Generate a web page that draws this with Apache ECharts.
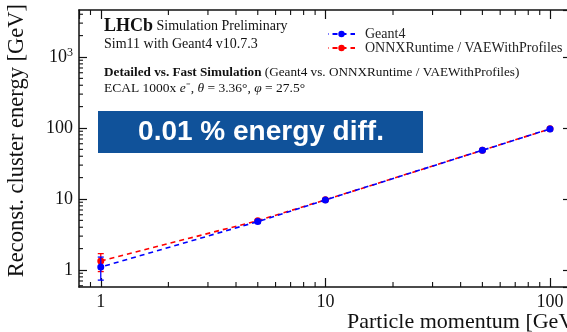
<!DOCTYPE html>
<html>
<head>
<meta charset="utf-8">
<script src="https://cdn.jsdelivr.net/npm/echarts@6/dist/echarts.min.js"></script>
<style>
html,body{margin:0;padding:0;background:#fff;}
#c{width:567px;height:332px;}
</style>
</head>
<body>
<div id="c"></div>
<script>
// ---- data ----
var momentum = [1, 5, 10, 50, 100];
var geant4 = [1.10, 4.80, 9.70, 48.5, 97.0];
var geant4Lo = [0.72, 4.60, 9.50, 47.8, 95.8];
var geant4Hi = [1.52, 5.00, 9.90, 49.2, 98.2];
var onnx = [1.34, 4.95, 9.72, 48.6, 97.2];
var onnxLo = [0.95, 4.75, 9.52, 47.9, 96.0];
var onnxHi = [1.70, 5.15, 9.92, 49.3, 98.4];
var xTickLabels = ['1', '10', '100'];
var yTickLabels = ['1', '10', '100', '10{sup|3}'];
var seriesNames = ['Geant4', 'ONNXRuntime / VAEWithProfiles'];

var SERIF = 'Liberation Serif';
var xMin = 0.8, xMax = 124, yMin = 0.576, yMax = 4590;
var BLUE = '#0000ff', RED = '#ff0000';

function pairs(xs, ys) { return xs.map(function (x, i) { return [x, ys[i]]; }); }
function errData(xs, lo, hi) { return xs.map(function (x, i) { return [x, lo[i], hi[i]]; }); }

function isDecade(v) { var l = Math.log10(v); return Math.abs(l - Math.round(l)) < 1e-6; }

function errRender(color) {
  return function (params, api) {
    var x = api.value(0);
    var p1 = api.coord([x, api.value(1)]);
    var p2 = api.coord([x, api.value(2)]);
    var cw = 3;
    var st = { stroke: color, lineWidth: 1.3 };
    return { type: 'group', children: [
      { type: 'line', shape: { x1: p1[0], y1: p1[1], x2: p2[0], y2: p2[1] }, style: st },
      { type: 'line', shape: { x1: p1[0] - cw, y1: p1[1], x2: p1[0] + cw, y2: p1[1] }, style: st },
      { type: 'line', shape: { x1: p2[0] - cw, y1: p2[1], x2: p2[0] + cw, y2: p2[1] }, style: st }
    ]};
  };
}

var chart = echarts.init(document.getElementById('c'), null, { renderer: 'canvas' });

var GL = 79, GT = 10, GW = 492, GH = 277;
var axisLine = { show: true, lineStyle: { color: '#111', width: 1.5 } };
var tickX = { show: true, inside: true, length: 9, lineStyle: { color: '#111', width: 1.2 } };
var tickY = { show: true, inside: true, length: 8, lineStyle: { color: '#111', width: 1.2 } };

var option = {
  animation: false,
  backgroundColor: '#fff',
  grid: { left: GL, top: GT, width: GW, height: GH, containLabel: false, outerBoundsMode: 'none' },
  xAxis: [{
    type: 'log', logBase: 10, min: xMin, max: xMax, position: 'bottom',
    axisLine: axisLine, axisTick: tickX, splitLine: { show: false },
    axisLabel: { margin: 6, color: '#111', fontFamily: SERIF, fontSize: 18,
      showMinLabel: false, showMaxLabel: false,
      formatter: function (v) { if (!isDecade(v)) return ''; var i = Math.round(Math.log10(v)); return xTickLabels[i] || ''; } }
  }, {
    type: 'log', logBase: 10, min: xMin, max: xMax, position: 'top',
    axisLine: axisLine, axisTick: tickX, axisLabel: { show: false }, splitLine: { show: false }
  }],
  yAxis: [{
    type: 'log', logBase: 10, min: yMin, max: yMax, position: 'left',
    axisLine: axisLine, axisTick: tickY, splitLine: { show: false },
    axisLabel: { margin: 6, color: '#111', fontFamily: SERIF, fontSize: 18,
      showMinLabel: false, showMaxLabel: false,
      formatter: function (v) { if (!isDecade(v)) return ''; var i = Math.round(Math.log10(v)); return yTickLabels[i] || ''; },
      rich: { sup: { fontFamily: SERIF, fontSize: 12, verticalAlign: 'top', padding: [0, 0, 8, 0], color: '#111' } } }
  }, {
    type: 'log', logBase: 10, min: yMin, max: yMax, position: 'right',
    axisLine: axisLine, axisTick: tickY, axisLabel: { show: false }, splitLine: { show: false }
  }],
  legend: {
    data: seriesNames, orient: 'vertical', left: 327, top: 27, itemGap: 0,
    itemWidth: 27, itemHeight: 8, padding: 0,
    textStyle: { fontFamily: SERIF, fontSize: 14, lineHeight: 11, color: '#222', padding: [0, 0, 0, 5] }
  },
  series: [
    { name: seriesNames[1] + ' err', type: 'custom', renderItem: errRender(RED), data: errData(momentum, onnxLo, onnxHi), z: 2, silent: true },
    { name: seriesNames[1], type: 'line', data: pairs(momentum, onnx), symbol: 'circle', symbolSize: 7,
      lineStyle: { color: RED, width: 1.6, type: [5, 4] }, itemStyle: { color: RED }, z: 3 },
    { name: seriesNames[0] + ' err', type: 'custom', renderItem: errRender(BLUE), data: errData(momentum, geant4Lo, geant4Hi), z: 4, silent: true },
    { name: seriesNames[0], type: 'line', data: pairs(momentum, geant4), symbol: 'circle', symbolSize: 7,
      lineStyle: { color: BLUE, width: 1.6, type: [5, 4], dashOffset: 4.5 }, itemStyle: { color: BLUE }, z: 5 }
  ]
};
chart.setOption(option);

// minor ticks (log 2..9) computed through the chart's own axis scales
var gfx = [];
var xMinor = [], yMinor = [];
[0.1, 1, 10, 100].forEach(function (d) { for (var k = 2; k <= 9; k++) { var v = d * k; if (v > xMin && v < xMax && !isDecade(v)) xMinor.push(v); } });
[0.1, 1, 10, 100, 1000].forEach(function (d) { for (var k = 2; k <= 9; k++) { var v = d * k; if (v > yMin && v < yMax && !isDecade(v)) yMinor.push(v); } });
var gl = GL, gt = GT, gr = GL + GW, gb = GT + GH;
var ms = { stroke: '#111', lineWidth: 1.1 };
xMinor.forEach(function (v) {
  var px = chart.convertToPixel({ xAxisIndex: 0 }, v);
  gfx.push({ type: 'line', shape: { x1: px, y1: gb, x2: px, y2: gb - 5 }, style: ms, silent: true });
  gfx.push({ type: 'line', shape: { x1: px, y1: gt, x2: px, y2: gt + 5 }, style: ms, silent: true });
});
yMinor.forEach(function (v) {
  var py = chart.convertToPixel({ yAxisIndex: 0 }, v);
  gfx.push({ type: 'line', shape: { x1: gl, y1: py, x2: gl + 4, y2: py }, style: ms, silent: true });
  gfx.push({ type: 'line', shape: { x1: gr, y1: py, x2: gr - 4, y2: py }, style: ms, silent: true });
});

// annotation texts
gfx.push({ type: 'text', x: 104, y: 35, silent: true, style: {
  text: '{b|LHCb}{n| Simulation Preliminary}', verticalAlign: 'bottom',
  rich: { b: { fontFamily: SERIF, fontWeight: 'bold', fontSize: 18, fill: '#111' },
          n: { fontFamily: SERIF, fontSize: 14, fill: '#111' } } } });
gfx.push({ type: 'text', x: 104, y: 44, silent: true, style: {
  text: 'Sim11 with Geant4 v10.7.3', fontFamily: SERIF, fontSize: 14, fill: '#111', verticalAlign: 'middle' } });
gfx.push({ type: 'text', x: 104, y: 73, silent: true, style: {
  text: '{b|Detailed vs. Fast Simulation}{n| (Geant4 vs. ONNXRuntime / VAEWithProfiles)}', verticalAlign: 'middle',
  rich: { b: { fontFamily: SERIF, fontWeight: 'bold', fontSize: 13.2, fill: '#111' },
          n: { fontFamily: SERIF, fontSize: 13.2, fill: '#111' } } } });
gfx.push({ type: 'text', x: 104, y: 88, silent: true, style: {
  text: '{n|ECAL 1000x }{i|e}{n|\u207B, }{i|\u03B8}{n| = 3.36\u00B0, }{i|\u03C6}{n| = 27.5\u00B0}', verticalAlign: 'middle',
  rich: { n: { fontFamily: SERIF, fontSize: 13.5, fill: '#111' },
          i: { fontFamily: SERIF, fontStyle: 'italic', fontSize: 13.5, fill: '#111' } } } });

// highlight box
gfx.push({ type: 'rect', shape: { x: 98, y: 111, width: 325, height: 42 }, style: { fill: '#10529a' }, silent: true });
gfx.push({ type: 'text', x: 261, y: 132, silent: true, style: {
  text: '0.01 % energy diff.', fontFamily: 'Liberation Sans', fontWeight: 'bold', fontSize: 28,
  fill: '#ffffff', align: 'center', verticalAlign: 'middle' } });

// axis titles
gfx.push({ type: 'text', x: 6, y: 4, rotation: Math.PI / 2, silent: true, style: {
  text: 'Reconst. cluster energy [GeV]', fontFamily: SERIF, fontSize: 22.5, fill: '#111', align: 'right', verticalAlign: 'top' } });
gfx.push({ type: 'text', x: 347, y: 311, silent: true, style: {
  text: 'Particle momentum [GeV]', fontFamily: SERIF, fontSize: 22, fill: '#111', align: 'left', verticalAlign: 'top' } });

chart.setOption({ graphic: gfx });
</script>
</body>
</html>
